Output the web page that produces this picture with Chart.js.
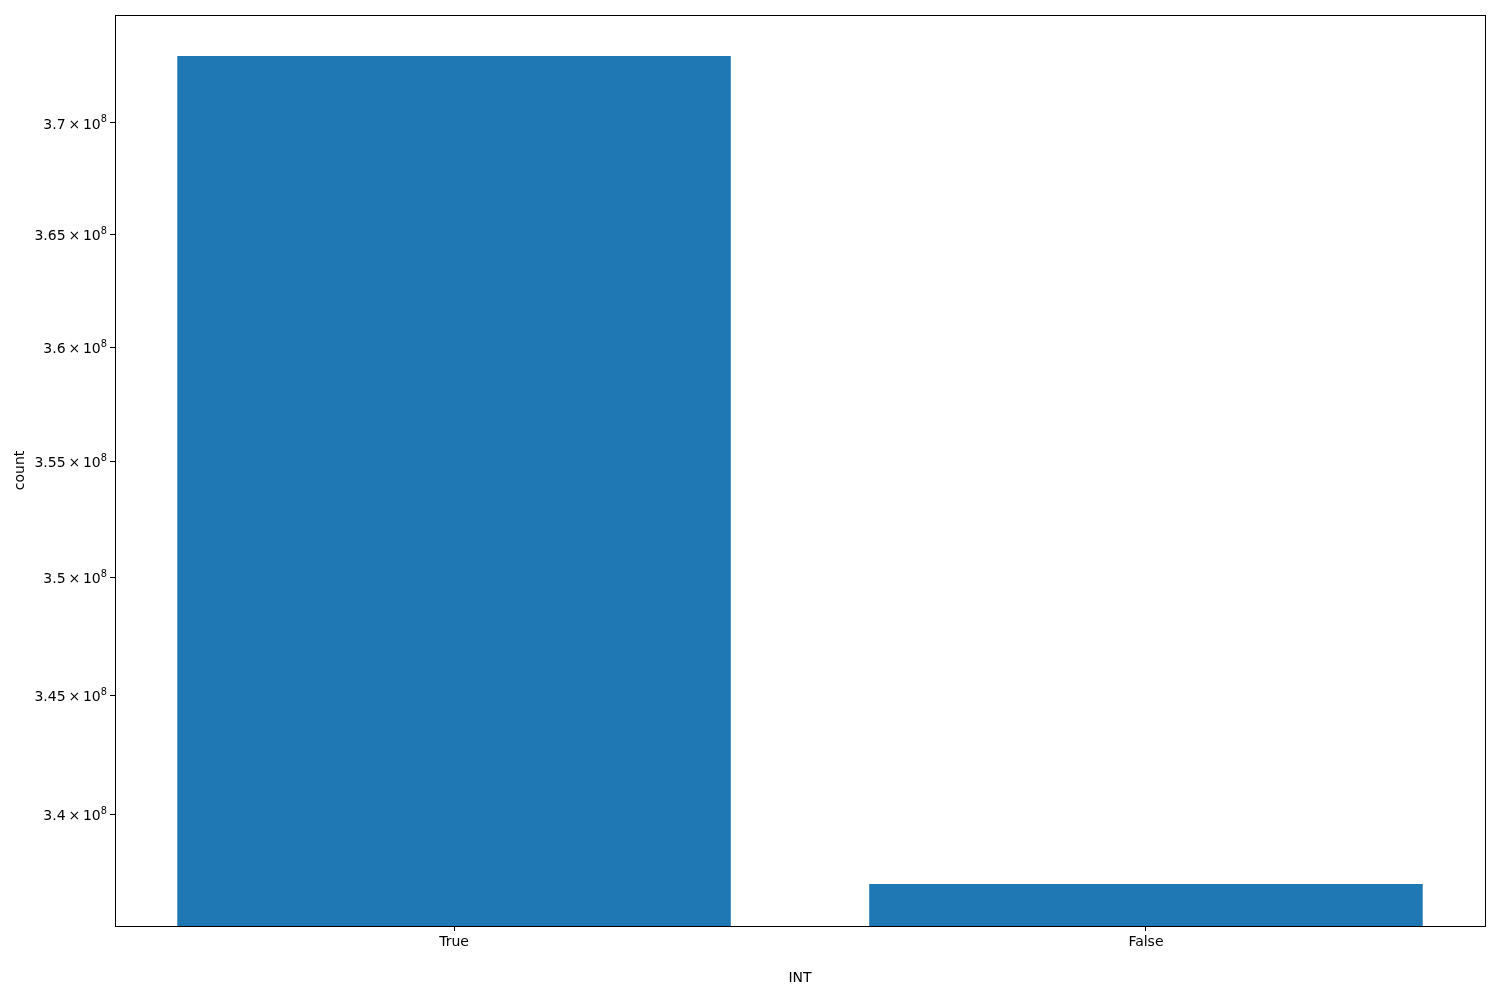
<!DOCTYPE html>
<html>
<head>
<meta charset="utf-8">
<script src="https://cdn.jsdelivr.net/npm/chart.js@4/dist/chart.umd.min.js"></script>
<style>
  html, body { margin: 0; padding: 0; background: #fff; }
  #wrap { width: 1500px; height: 1000px; }
</style>
</head>
<body>
<div id="wrap"><canvas id="chart1" width="1500" height="1000"></canvas></div>
<script>
const categories = ['True', 'False'];
const counts = [373040000, 337140000];
const yTicks = [340000000, 345000000, 350000000, 355000000, 360000000, 365000000, 370000000];
const yMin = 335410000;
const yMax = 374910000;

// y labels drawn as mantissa × 10 with a real superscript exponent
const sciLabels = {
    id: 'sciLabels',
    afterDraw(chart) {
        const { ctx } = chart;
        const y = chart.scales.y;
        ctx.save();
        ctx.fillStyle = '#000';
        ctx.textBaseline = 'middle';
        yTicks.forEach(v => {
            const exp = Math.floor(Math.log10(v));
            const mant = +(v / Math.pow(10, exp)).toFixed(2);
            const py = y.getPixelForValue(v);
            ctx.font = '9.8px "DejaVu Sans"';
            const sw = ctx.measureText(String(exp)).width;
            const xr = 107 - sw;
            ctx.textAlign = 'left';
            ctx.fillText(String(exp), xr, py - 3);
            ctx.font = '14px "DejaVu Sans"';
            ctx.textAlign = 'right';
            ctx.fillText(mant + '\u2009×\u200910', xr, py + 2);
        });
        ctx.restore();
    }
};

// matplotlib-style box around the plot
const frame = {
    id: 'frame',
    afterDraw(chart) {
        const { ctx, chartArea: a } = chart;
        ctx.save();
        ctx.strokeStyle = '#000';
        ctx.lineWidth = 1;
        ctx.strokeRect(Math.round(a.left) + 0.5, Math.round(a.top) + 0.5,
            Math.round(a.right - a.left), Math.round(a.bottom - a.top));
        ctx.restore();
    }
};

const font = { family: 'DejaVu Sans', size: 14 };
Chart.defaults.color = '#000';

const chart1 = document.getElementById('chart1');

new Chart(chart1, {
    type: 'bar',
    data: {
        datasets: [{
            label: 'count',
            data: counts.map((c, i) => ({ x: i, y: c })),
            backgroundColor: '#1f77b4',
            barPercentage: 0.8,
            categoryPercentage: 1.0
        }]
    },
    options: {
        responsive: false,
        animation: false,
        devicePixelRatio: 1,
        layout: { padding: { top: 15, right: 15, left: 0, bottom: 0 } },
        plugins: {
            legend: { display: false },
            tooltip: { enabled: false }
        },
        scales: {
            x: {
                type: 'linear',
                min: -0.49,
                max: 1.49,
                offset: false,
                grid: { display: true, offset: false, drawOnChartArea: false, drawTicks: true, tickLength: 5, color: '#000' },
                border: { display: true, color: '#000' },
                afterBuildTicks(scale) { scale.ticks = categories.map((c, i) => ({ value: i })); },
                ticks: { font: font, padding: 3, color: '#000', autoSkip: false, maxRotation: 0, callback: (v) => categories[v] },
                title: { display: true, text: 'INT', font: font, color: '#000', padding: { top: 0, bottom: 13 } },
                afterFit(scale) { scale.height = 74; }
            },
            y: {
                type: 'logarithmic',
                min: yMin,
                max: yMax,
                grid: { display: true, drawOnChartArea: false, drawTicks: true, tickLength: 5, color: '#000' },
                border: { display: true, color: '#000' },
                afterBuildTicks(scale) { scale.ticks = yTicks.map(v => ({ value: v })); },
                ticks: { font: font, padding: 3, color: 'rgba(0,0,0,0)', autoSkip: false, callback: () => '' },
                title: { display: true, text: 'count', font: font, color: '#000', padding: { top: 12, bottom: 0 } },
                afterFit(scale) { scale.width = 115; }
            }
        }
    },
    plugins: [frame, sciLabels]
});
</script>
</body>
</html>
